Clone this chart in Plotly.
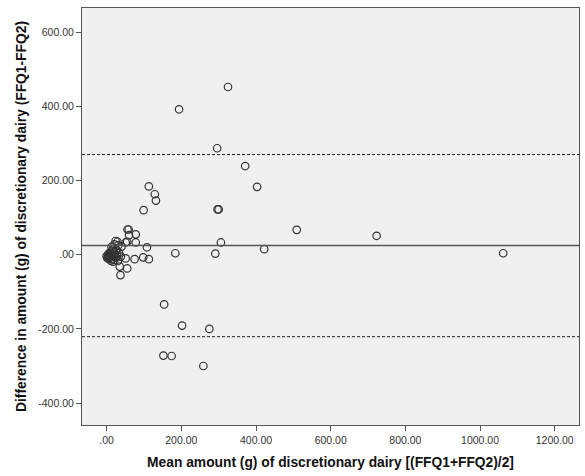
import plotly.graph_objects as go

# Bland-Altman data: mean of the two FFQs (x) and their difference (y), grams
mean_amount = [
    0, 2, 4, 5, 7, 9, 8, 10, 12, 13, 14, 15, 17, 18, 20, 22, 24, 25, 27, 28,
    30, 31, 33, 35, 37, 38, 40, 16, 19, 11, 6, 3, 26, 21, 29,
    51, 55, 51, 55, 56, 59, 60, 78, 78, 75, 98, 108, 99, 113, 129, 132, 113,
    184, 154, 152, 174, 202, 259, 275, 291, 297, 300, 306, 296, 325, 194,
    371, 403, 422, 509, 723, 1062,
]
difference = [
    -4, -8, -1, -6, -10, -8, 3, 6, -3, 21, 10, -12, -19, 0, 8, -1, 37, 14, 12, -2,
    -17, 25, 5, -32, -55, -5, 22, 15, -14, -16, 4, -10, -8, 28, 35,
    -10, -37, 33, 35, 68, 68, 53, 55, 33, -12, -7, 20, 120, 184, 163, 146, -12,
    4, -134, -272, -273, -191, -300, -200, 3, 122, 122, 33, 287, 452, 392,
    239, 183, 15, 67, 51, 4,
]

# Mean difference and 95% limits of agreement
mean_diff = 24.5
upper_loa = 270
lower_loa = -221

x_ticks = [0, 200, 400, 600, 800, 1000, 1200]
x_tick_text = [".00", "200.00", "400.00", "600.00", "800.00", "1000.00", "1200.00"]
y_ticks = [-400, -200, 0, 200, 400, 600]
y_tick_text = ["-400.00", "-200.00", ".00", "200.00", "400.00", "600.00"]

x_range = [-66, 1265]
y_range = [-459, 665]

fig = go.Figure()

fig.add_trace(go.Scatter(
    x=mean_amount, y=difference, mode="markers",
    marker=dict(symbol="circle", size=7.5, color="rgba(0,0,0,0)",
                line=dict(color="#333333", width=1.2)),
    showlegend=False, hoverinfo="x+y",
))

fig.add_shape(type="line", xref="paper", yref="y", x0=0, x1=1,
              y0=mean_diff, y1=mean_diff,
              line=dict(color="#555555", width=1.5))
for lim in (upper_loa, lower_loa):
    fig.add_shape(type="line", xref="paper", yref="y", x0=0, x1=1,
                  y0=lim, y1=lim,
                  line=dict(color="#222222", width=1, dash="3px,2px"))

axis_common = dict(
    showgrid=False, zeroline=False, showline=True, mirror=True,
    linecolor="#555555", linewidth=1, ticks="outside", ticklen=5,
    tickcolor="#555555", tickfont=dict(family="Liberation Sans, Arial", size=10.5, color="#333333"),
)

title_font = dict(family="Liberation Sans, Arial", size=13.8, color="#111111")

fig.update_xaxes(
    range=x_range, tickvals=x_ticks, ticktext=x_tick_text,
    title=dict(text="<b>Mean amount (g) of discretionary dairy [(FFQ1+FFQ2)/2]</b>",
               font=title_font, standoff=12),
    **axis_common,
)
fig.update_yaxes(
    range=y_range, tickvals=y_ticks, ticktext=y_tick_text,
    title=dict(text="<b>Difference in amount (g) of discretionary dairy (FFQ1-FFQ2)</b>",
               font=title_font, standoff=8),
    **axis_common,
)

fig.update_layout(
    width=585, height=476,
    margin=dict(l=82, r=6, t=8, b=51),
    paper_bgcolor="white", plot_bgcolor="#F0F0F0",
)

fig.write_html("out.html")
